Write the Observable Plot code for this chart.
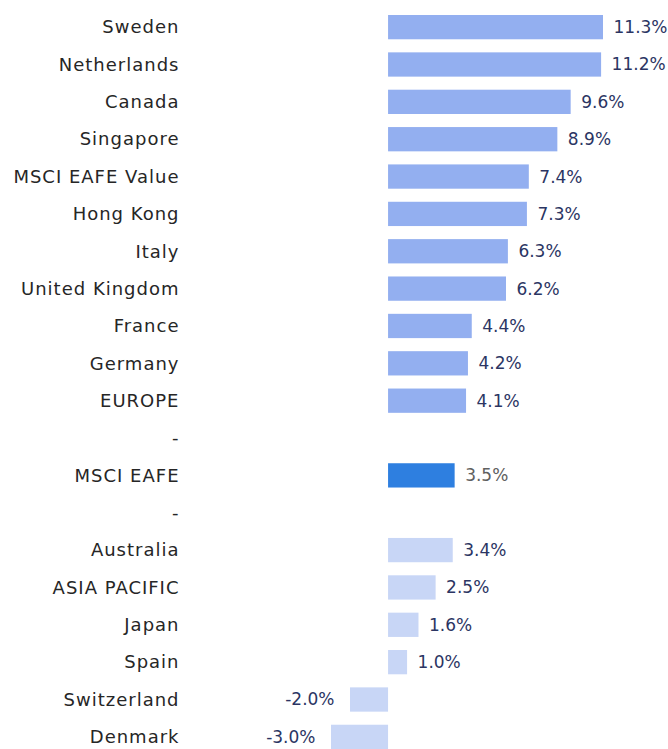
<!DOCTYPE html>
<html>
<head>
<meta charset="utf-8">
<script src="https://cdn.jsdelivr.net/npm/d3@7"></script>
<script src="https://cdn.jsdelivr.net/npm/@observablehq/plot@0.6"></script>
<style>
  html, body { margin: 0; padding: 0; background: #fff; }
  #chart svg { display: block; }
</style>
</head>
<body>
<div id="chart"></div>
<script>
const categories = ["Sweden","Netherlands","Canada","Singapore","MSCI EAFE Value","Hong Kong","Italy","United Kingdom","France","Germany","EUROPE","-","MSCI EAFE","-","Australia","ASIA PACIFIC","Japan","Spain","Switzerland","Denmark"];
const values = [11.3,11.2,9.6,8.9,7.4,7.3,6.3,6.2,4.4,4.2,4.1,null,3.5,null,3.4,2.5,1.6,1.0,-2.0,-3.0];
const groups = ["above","above","above","above","above","above","above","above","above","above","above","gap","index","gap","below","below","below","below","below","below"];
const groupNames = ["above","index","below"];
const groupColors = ["#93aff0","#2e7fe0","#c8d6f6"];
const labelColors = ["#2b3563","#606060","#2b3563"];

const rows = categories.map((c, i) => ({key: i, name: c, value: values[i], group: groups[i]}));
const bars = rows.filter(d => d.value != null);
const pos = bars.filter(d => d.value >= 0);
const neg = bars.filter(d => d.value < 0);
const colorOf = g => groupColors[groupNames.indexOf(g)];
const labelColorOf = g => labelColors[groupNames.indexOf(g)];
const fmt = d => d.value.toFixed(1) + "%";

const chart = Plot.plot({
  width: 668,
  height: 749,
  marginLeft: 331,
  marginRight: 65,
  marginTop: 15,
  marginBottom: 0,
  style: {fontFamily: "'DejaVu Sans', sans-serif", fontSize: "18px", background: "#fff"},
  x: {domain: [-3, 11.3], axis: null},
  y: {domain: rows.map(d => d.key), paddingInner: 0.35, paddingOuter: 0, round: false, axis: null},
  marks: [
    Plot.barX(bars, {x: "value", y: "key", fill: d => colorOf(d.group)}),
    Plot.text(rows, {x: -3, y: "key", text: "name", textAnchor: "end", dx: -152, fill: "#262626", fontSize: 18}),
    Plot.text(pos, {x: "value", y: "key", text: fmt, textAnchor: "start", dx: 10, fill: d => labelColorOf(d.group), fontSize: 17}),
    Plot.text(neg, {x: "value", y: "key", text: fmt, textAnchor: "end", dx: -16, fill: d => labelColorOf(d.group), fontSize: 17})
  ]
});
document.getElementById("chart").appendChild(chart);
d3.select(chart).select("g[aria-label='text']").style("letter-spacing", "1px");
</script>
</body>
</html>
